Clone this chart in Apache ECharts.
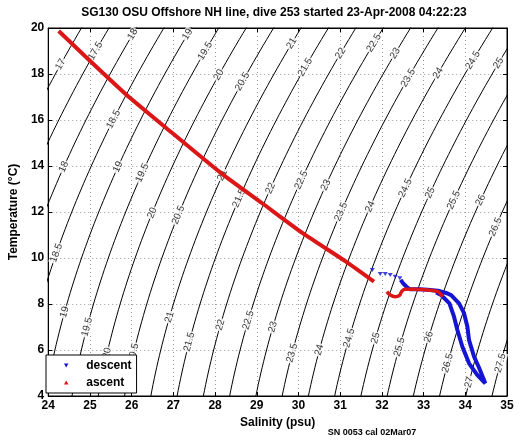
<!DOCTYPE html>
<html>
<head>
<meta charset="utf-8">
<script src="https://cdn.jsdelivr.net/npm/echarts@6/dist/echarts.min.js"></script>
<style>html,body{margin:0;padding:0;background:#fff}#c{width:519px;height:442px}</style>
</head>
<body>
<div id="c"></div>
<script>
// ---- data ----
const titleText = 'SG130 OSU Offshore NH line, dive 253 started 23-Apr-2008 04:22:23';
const xTicks = [24, 25, 26, 27, 28, 29, 30, 31, 32, 33, 34, 35];
const yTicks = [4, 6, 8, 10, 12, 14, 16, 18, 20];
// sigma-t isopycnal levels drawn in the background
const densityLevels = [17, 17.5, 18, 18.5, 19, 19.5, 20, 20.5, 21, 21.5, 22, 22.5, 23, 23.5, 24, 24.5, 25, 25.5, 26, 26.5, 27, 27.5];
// contour label positions: level and the temperature where the label sits
const labelLevels = [17, 17.5, 18, 19, 19.5, 20, 20.5, 21, 21.5, 22, 22.5, 23, 23.5, 24, 24.5, 25,
  18.5, 18, 19, 19.5, 21, 21.5, 22, 22.5, 23, 23.5, 24, 24.5, 25, 25.5, 26, 26.5, 20, 20.5,
  18.5, 19, 19.5, 20, 20.5, 21, 21.5, 22, 22.5, 23, 23.5, 24, 24.5, 25, 25.5, 26, 26.5, 27, 27.5];
const labelTemps = [18.42, 19.0, 19.73, 19.73, 19.0, 17.96, 17.67, 19.33, 18.3, 18.9, 19.35, 18.9, 17.83, 18.04, 18.6, 18.48,
  16.03, 13.96, 13.96, 13.7, 13.6, 12.6, 13.03, 13.39, 13.17, 12.01, 12.23, 13.04, 12.83, 12.52, 12.52, 11.35, 11.96, 11.87,
  10.22, 7.65, 7.0, 5.87, 5.87, 7.43, 6.35, 7.09, 7.3, 7.0, 5.87, 6.0, 6.52, 6.52, 6.13, 6.57, 5.43, 4.6, 5.43];

// ascent (red): salinity, temperature
const ascentSalinity = [24.25, 24.96, 25.86, 26.77, 28.15, 29.13, 30.11, 31.14, 31.81];
const ascentTemp     = [19.87, 18.64, 17.12, 15.74, 13.68, 12.38, 11.07, 9.84, 8.97];
const ascentTailSalinity = [32.12, 32.20, 32.32, 32.43, 32.47, 32.55, 32.79, 33.10, 33.34, 33.46];
const ascentTailTemp     = [8.54, 8.39, 8.32, 8.39, 8.54, 8.64, 8.64, 8.61, 8.54, 8.32];

// descent (blue): sparse near-surface points, then the dense trace
const descentTopSalinity = [31.77, 31.96, 32.08, 32.20, 32.32, 32.43];
const descentTopTemp     = [9.48, 9.30, 9.30, 9.26, 9.19, 9.12];
const descentSalinity = [32.45, 32.51, 32.59, 32.67, 32.91, 33.10, 33.34, 33.54, 33.66, 33.85, 33.97, 34.05, 34.09, 34.21, 34.32, 34.48,
  34.44, 34.29, 34.09, 33.93, 33.81, 33.73, 33.62, 33.42, 33.30];
const descentTemp     = [9.05, 8.90, 8.75, 8.64, 8.64, 8.62, 8.58, 8.48, 8.39, 8.03, 7.60, 7.01, 6.43, 5.71, 5.27, 4.55,
  4.55, 4.91, 5.42, 6.14, 6.87, 7.45, 8.03, 8.39, 8.50];

// ---- UNESCO 1980 sea-water density at surface pressure (sigma-t), used for the isopycnals ----
function sigmaT(S, T) {
  const rw = 999.842594 + 6.793952e-2*T - 9.095290e-3*T*T + 1.001685e-4*T*T*T - 1.120083e-6*T*T*T*T + 6.536332e-9*T*T*T*T*T;
  const A = 8.24493e-1 - 4.0899e-3*T + 7.6438e-5*T*T - 8.2467e-7*T*T*T + 5.3875e-9*T*T*T*T;
  const B = -5.72466e-3 + 1.0227e-4*T - 1.6546e-6*T*T;
  const C = 4.8314e-4;
  return rw + A*S + B*Math.pow(S, 1.5) + C*S*S - 1000;
}
function salinityFor(level, T) {
  let lo = 0, hi = 50;
  for (let i = 0; i < 60; i++) {
    const m = (lo + hi) / 2;
    if (sigmaT(m, T) < level) lo = m; else hi = m;
  }
  return (lo + hi) / 2;
}

const FONT = "'Liberation Sans', Arial, Helvetica, sans-serif";
const grid = {left: 41, right: 12, top: 28, bottom: 46};
const pxPerS = (519 - grid.left - grid.right) / (xTicks[xTicks.length-1] - xTicks[0]);
const pxPerT = (442 - grid.top - grid.bottom) / (yTicks[yTicks.length-1] - yTicks[0]);

const series = [];
densityLevels.forEach(function (lv) {
  const pts = [];
  for (let T = 3.5; T <= 20.5001; T += 0.25) pts.push([salinityFor(lv, T), T]);
  series.push({type: 'line', data: pts, symbol: 'none', silent: true, z: 1, clip: true,
    lineStyle: {color: '#000', width: 1}, animation: false});
});
// label angle follows the contour: positive rotate = anticlockwise
const labelData = labelLevels.map(function (lv, i) {
  const T = labelTemps[i];
  const s1 = salinityFor(lv, T - 0.2), s2 = salinityFor(lv, T + 0.2);
  const ang = Math.atan2(0.4 * pxPerT, (s2 - s1) * pxPerS) * 180 / Math.PI;
  return {value: [salinityFor(lv, T), T], label: {rotate: ang, formatter: String(lv)}};
});
series.push({type: 'scatter', data: labelData, symbolSize: 0, silent: true, z: 2, animation: false,
  label: {show: true, position: 'inside', color: '#000', fontFamily: FONT, fontSize: 10,
    backgroundColor: '#fff', padding: [0, 1]}});

const zip = (a, b) => a.map((v, i) => [v, b[i]]);
series.push({name: 'descent', type: 'line', data: zip(descentSalinity, descentTemp), symbol: 'none', z: 4,
  color: '#1414d2', lineStyle: {color: '#1414d2', width: 4}, animation: false});
series.push({name: 'descent', type: 'scatter', data: zip(descentTopSalinity, descentTopTemp), symbol: 'path://M0,0L10,0L5,8Z',
  symbolSize: [5, 4], z: 4, color: '#1414d2', itemStyle: {color: '#1414d2'}, animation: false});
series.push({name: 'ascent', type: 'line', data: zip(ascentSalinity, ascentTemp), symbol: 'none', z: 5, smooth: 0.2,
  color: '#dc1616', lineStyle: {color: '#dc1616', width: 4}, animation: false});
series.push({name: 'ascent', type: 'line', data: zip(ascentTailSalinity, ascentTailTemp), symbol: 'none', z: 5, smooth: 0.3,
  color: '#dc1616', lineStyle: {color: '#dc1616', width: 3.5}, animation: false});

const axisCommon = {
  axisLine: {show: true, lineStyle: {color: '#000', width: 1}},
  axisTick: {show: true, inside: true, length: 4, lineStyle: {color: '#000'}},
};
const chart = echarts.init(document.getElementById('c'), null, {renderer: 'canvas'});
chart.setOption({
  animation: false,
  backgroundColor: '#fff',
  grid: Object.assign({show: true, borderColor: '#000', borderWidth: 1, backgroundColor: '#fff'}, grid),
  legend: {
    data: [{name: 'descent', icon: 'path://M0,0L10,0L5,9Z'}, {name: 'ascent', icon: 'path://M5,0L10,9L0,9Z'}],
    orient: 'vertical', left: 46, top: 355, itemWidth: 30, itemHeight: 4, itemGap: 2,
    padding: [3, 5, 3, 18], backgroundColor: '#fff', borderColor: '#000', borderWidth: 1, borderRadius: 0,
    textStyle: {fontFamily: FONT, fontSize: 12, fontWeight: 'bold', color: '#000', lineHeight: 15},
    selectedMode: false, z: 10
  },
  xAxis: [Object.assign({}, axisCommon, {
    type: 'value', min: xTicks[0], max: xTicks[xTicks.length-1], interval: 1, position: 'bottom',
    name: 'Salinity (psu)', nameLocation: 'middle', nameGap: 19,
    nameTextStyle: {fontFamily: FONT, fontSize: 12, fontWeight: 'bold', color: '#000'},
    axisLabel: {fontFamily: FONT, fontSize: 12, fontWeight: 'bold', color: '#000', margin: 4},
    splitLine: {show: true, lineStyle: {color: '#999', type: [1, 3], width: 1}}
  }), Object.assign({}, axisCommon, {
    type: 'value', min: xTicks[0], max: xTicks[xTicks.length-1], interval: 1, position: 'top',
    axisLabel: {show: false}, splitLine: {show: false}
  })],
  yAxis: [Object.assign({}, axisCommon, {
    type: 'value', min: yTicks[0], max: yTicks[yTicks.length-1], interval: 2, position: 'left',
    name: 'Temperature (°C)', nameLocation: 'middle', nameGap: 25, nameRotate: 90,
    nameTextStyle: {fontFamily: FONT, fontSize: 12, fontWeight: 'bold', color: '#000'},
    axisLabel: {fontFamily: FONT, fontSize: 12, fontWeight: 'bold', color: '#000', margin: 4},
    splitLine: {show: true, lineStyle: {color: '#999', type: [1, 3], width: 1}}
  }), Object.assign({}, axisCommon, {
    type: 'value', min: yTicks[0], max: yTicks[yTicks.length-1], interval: 2, position: 'right',
    axisLabel: {show: false}, splitLine: {show: false}
  })],
  graphic: [
    {type: 'text', x: 274, y: 13, z: 10, style: {text: titleText, fill: '#000', align: 'center', verticalAlign: 'middle',
      font: 'bold 12px ' + FONT}},
    {type: 'text', x: 372, y: 433, z: 10, style: {text: 'SN 0053 cal 02Mar07', fill: '#000', align: 'center', verticalAlign: 'middle',
      font: 'bold 9px ' + FONT}}
  ],
  series: series
});
</script>
</body>
</html>
